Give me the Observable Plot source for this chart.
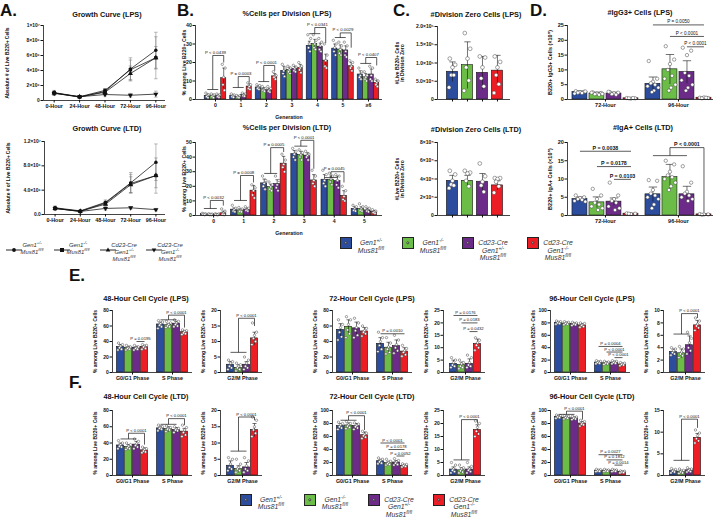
<!DOCTYPE html>
<html><head><meta charset="utf-8">
<script src="https://cdn.jsdelivr.net/npm/d3@7"></script>
<script src="https://cdn.jsdelivr.net/npm/@observablehq/plot@0.6"></script>
<style>
body{margin:0;background:#fff;}
#fig{position:relative;width:716px;height:525px;overflow:hidden;font-family:"Liberation Sans",Arial,Helvetica,sans-serif;color:#111;}
.ttl{position:absolute;font-weight:bold;font-size:7.3px;white-space:nowrap;transform:translate(-50%,-50%);}
.let{position:absolute;font-weight:bold;font-size:17px;line-height:17px;}
.leg{position:absolute;font-style:italic;color:#333;text-align:center;white-space:nowrap;transform:translateX(-50%);}
.leg sup{font-size:0.68em;vertical-align:super;line-height:0;}
</style></head><body><div id="fig"></div>
<script>
const FONT = '"Liberation Sans", Arial, Helvetica, sans-serif';
// ---------- shared ----------
const genotypes = ["Gen1+/- Mus81fl/fl","Gen1-/- Mus81fl/fl","Cd23-Cre Gen1+/- Mus81fl/fl","Cd23-Cre Gen1-/- Mus81fl/fl"];
const colors = ["#2c4d9d","#6cbd48","#6c2b88","#ec1d25"];
const legendLabels = ["Gen1<sup>+/-</sup><br>Mus81<sup>fl/fl</sup>","Gen1<sup>-/-</sup><br>Mus81<sup>fl/fl</sup>","Cd23-Cre<br>Gen1<sup>+/-</sup><br>Mus81<sup>fl/fl</sup>","Cd23-Cre<br>Gen1<sup>-/-</sup><br>Mus81<sup>fl/fl</sup>"];
const hours = ["0-Hour","24-Hour","48-Hour","72-Hour","96-Hour"];

// ---------- A. growth curves ----------
const growthLPS_mean = [[1.0e6,0.45e6,1.2e6,4.2e6,6.7e6],[1.05e6,0.5e6,1.35e6,4.1e6,5.7e6],[1.0e6,0.5e6,1.1e6,3.6e6,5.7e6],[0.95e6,0.5e6,0.8e6,0.7e6,0.85e6]];
const growthLPS_sd = [[0.25e6,0.1e6,0.2e6,1.5e6,2.4e6],[0.3e6,0.1e6,0.25e6,1.3e6,2.8e6],[0.2e6,0.1e6,0.2e6,1.0e6,1.5e6],[0.25e6,0.1e6,0.2e6,0.25e6,0.4e6]];
const growthLTD_mean = [[1.1e6,0.6e6,2.0e6,5.2e6,8.6e6],[1.0e6,0.5e6,1.9e6,5.1e6,6.4e6],[1.0e6,0.55e6,1.7e6,4.9e6,6.4e6],[1.0e6,0.5e6,1.0e6,1.1e6,0.8e6]];
const growthLTD_sd = [[0.3e6,0.15e6,0.4e6,1.7e6,3.0e6],[0.25e6,0.1e6,0.35e6,1.5e6,2.9e6],[0.25e6,0.1e6,0.3e6,1.3e6,2.0e6],[0.2e6,0.1e6,0.3e6,0.2e6,0.2e6]];
const growthLPS_ticks = [0,2e6,4e6,6e6,8e6,1e7];
const growthLPS_tickText = ["0","2×10⁶","4×10⁶","6×10⁶","8×10⁶","1×10⁷"];
const growthLTD_ticks = [0,4e6,8e6,1.2e7];
const growthLTD_tickText = ["0.0","4.0×10⁶","8.0×10⁶","1.2×10⁷"];

// ---------- B. % cells per division (genotype x generation) ----------
const genLPS = ["0","1","2","3","4","5","≥6"];
const divLPS_mean = [[2.0,2.0,6.5,15.5,29.0,27.5,13.5],[2.0,1.5,5.5,16.0,30.0,27.0,12.0],[2.0,2.5,5.0,16.5,28.5,26.5,13.5],[11.5,7.0,12.5,17.0,21.0,18.0,9.0]];
const divLPS_sd = [[1.0,0.6,1.0,2.5,2.5,2.5,2.0],[0.8,0.5,0.9,1.5,2.5,2.5,2.0],[0.8,0.7,1.0,1.5,2.0,2.5,3.0],[5.5,1.5,1.5,2.0,3.5,2.0,1.5]];
const divLPS_dots = [
 [[3.5,2.5,2,1.5,1],[3,2.5,2,1.5,1],[3,2.5,2,1.5,1.2],[19,17,12,8,5]],
 [[3,2.5,2,1.5,1.2],[2.2,2,1.5,1.2,1],[3.5,3,2.5,2,1.8],[9,8,7,6,5.5]],
 [[8,7.5,6.5,6,5.5],[7,6,5.5,5,4.5],[7,6,5,4.5,4],[15,13,12.5,12,11]],
 [[19,17,15.5,14,12.5],[18,17,16,15,14],[18.5,17.5,16.5,15.5,15],[20,18,17,16,14.5]],
 [[35,33,30,28,26],[35,32,30,28,27],[33,31,29,27,26],[30,24,21,18,17]],
 [[32,30,28,26,24],[31,29,27,25,24],[31,29,26,24,23],[21,20,18,17,15.5]],
 [[17,15,13,12,11],[15,13,12,11,10],[18,17,13,11,10],[11,10,9,8,7]]];
const divLPS_p = [
 {t:"grp",g:0,join:5.4,top:23.8,end:20,p:"P < 0.0439",mid:true},
 {t:"grp",g:1,join:6.5,top:12.4,end:9.2,p:"P = 0.0003",mid:true},
 {t:"grp",g:2,join:9.7,top:18.4,end:15.5,p:"P < 0.0001",mid:true},
 {t:"grp",g:4,join:35.6,top:38.9,end:30.5,p:"P < 0.0341",mid:true},
 {t:"grp",g:5,join:33.5,top:36,end:28,p:"P < 0.0029",mid:true},
 {t:"grp",g:6,join:19.5,top:22.7,end:18.4,p:"P < 0.0407",mid:true}];
const genLTD = ["0","1","2","3","4","5"];
const divLTD_mean = [[1.0,4.0,22.0,42.0,24.5,4.5],[0.8,3.5,19.5,41.5,24.5,4.5],[0.8,4.0,21.5,41.0,23.5,3.5],[1.5,17.0,35.5,24.0,13.5,2.5]];
const divLTD_sd = [[0.4,1.2,3,2.5,3.5,1.5],[0.3,1,2,2.5,2.5,1.5],[0.3,1.2,3,2,3.5,1.5],[1.5,3.5,5,4,3.5,1]];
const divLTD_dots = [
 [[1.5,1.2,1,0.8,0.5],[1.2,1,0.8,0.6,0.5],[1.2,1,0.8,0.6,0.4],[4.5,3,1.5,0.8,0.5]],
 [[7,5,4,3,2.5],[5.5,4.5,3.5,2.8,2.5],[6,5,4,3.5,3],[21,19,17,14,12]],
 [[27,24,22,20,18],[23,21,19.5,18,17],[27,24,21,19,17],[42,38,35,33,30]],
 [[46,44,42,40,38],[45,43,41.5,40,38],[44,42,41,40,38],[31,27,24,22,20]],
 [[31,28,24,22,20],[29,27,25,23,21],[28,27,24,21,19],[20,17,13,11,10]],
 [[7,6,4.5,3.5,3],[8,6,4.5,3.5,3],[6,5,3.5,3,2.5],[4,3,2.5,2,1.5]]];
const divLTD_p = [
 {t:"grp",g:0,join:4.8,top:10.3,end:6.8,p:"P < 0.0032",mid:true},
 {t:"grp",g:1,join:10.3,top:27.4,end:22.6,p:"P = 0.0008",mid:true},
 {t:"grp",g:2,join:28.8,top:46.5,end:43.5,p:"P = 0.0005",mid:true},
 {t:"grp",g:3,join:47.5,top:51.5,end:32,p:"P < 0.0001",mid:true},
 {t:"grp",g:4,join:26,top:30,end:22.6,p:"P = 0.0045",mid:true}];

// ---------- C. division zero cells ----------
const zeroLPS_mean = [7.6e4,9.4e4,7.3e4,7.9e4];
const zeroLPS_sd = [2.7e4,6.4e4,4.5e4,4.2e4];
const zeroLPS_dots = [[1.12e5,0.95e5,0.88e5,0.67e5,0.67e5,0.33e5],[1.82e5,1.39e5,1.12e5,0.88e5,0.52e5,0.24e5],[1.18e5,1.15e5,0.88e5,0.58e5,0.36e5],[1.18e5,1.03e5,0.88e5,0.67e5,0.42e5,0.18e5]];
const zeroLPS_ticks = [0,5e4,1e5,1.5e5,2e5];
const zeroLPS_tickText = ["0","5.0×10⁴","1.0×10⁵","1.5×10⁵","2.0×10⁵"];
const zeroLTD_mean = [3.8e4,3.8e4,3.7e4,3.3e4];
const zeroLTD_sd = [0.6e4,0.6e4,0.9e4,0.5e4];
const zeroLTD_dots = [[4.9e4,4.5e4,3.8e4,3.4e4,3.3e4,3.0e4],[4.9e4,4.7e4,4.6e4,3.8e4,3.2e4],[5.7e4,4.3e4,3.7e4,3.3e4,2.6e4],[4.1e4,4.1e4,4.0e4,3.7e4,3.2e4,2.5e4]];
const zeroLTD_ticks = [0,2e4,4e4,6e4,8e4];
const zeroLTD_tickText = ["0","2×10⁴","4×10⁴","6×10⁴","8×10⁴"];

// ---------- D. IgG3+ / IgA+ cells (x10^5) ----------
const dHours = ["72-Hour","96-Hour"];
const igg3_mean = [[2.5,2.0,2.0,0.4],[5.3,10.2,9.3,0.6]];
const igg3_sd = [[0.4,0.5,0.5,0.1],[2.3,5.0,3.8,0.2]];
const igg3_dots = [
 [[2.8,2.6,2.5,2.3,2.2,2.0,2.7],[2.4,2.2,2.0,1.8,1.6,2.3,1.9],[2.5,2.3,2.1,1.8,1.6,2.6],[0.5,0.4,0.3,0.4,0.5]],
 [[13,7,6,5.5,5,4.5,4,3,2.5],[18,13.5,12,10,8,7,5,4,3],[17.5,16.5,15,9,8,6.5,5,4,3],[0.6,0.5,0.7,0.4,0.6]]];
const igg3_p = [{t:"line",g:1,from:0,to:3,y:25.2,p:"P = 0.0050"},{t:"line",g:1,from:1,to:3,y:21.3,p:"P < 0.0001"},{t:"line",g:1,from:2,to:3,y:17.8,p:"P < 0.0001"}];
const iga_mean = [[4.5,3.6,3.8,0.5],[5.8,10.5,5.8,0.3]];
const iga_sd = [[0.6,1.5,1.0,0.1],[2.0,3.5,2.2,0.1]];
const iga_dots = [
 [[5.5,5.0,4.8,4.5,4.3,4.0,3.8],[7.3,5.5,4.5,3.5,3.0,2.5,2.0,1.5],[9.0,5.5,4.5,4.0,3.5,2.5,2.0,1.5],[0.6,0.5,0.4,0.5]],
 [[9.7,9.5,7.0,6.0,5.5,5.0,4.5,3.0,2.0],[15,14,12,11,10.5,10,9,8,7],[13.5,9,6.5,6,5.5,5,4.5,4],[0.4,0.3,0.3,0.2]]];
const iga_p = [{t:"line",g:0,from:0,to:3,y:17.6,p:"P = 0.0038"},{t:"line",g:0,from:1,to:3,y:13.4,p:"P = 0.0178"},{t:"line",g:0,from:2,to:3,y:9.9,p:"P = 0.0103"},{t:"grp",g:1,join:16.4,top:18.6,end:0.8,p:"P < 0.0001"}];

// ---------- E/F. cell cycle ----------
const phases1 = ["G0/G1 Phase","S Phase"];
const phases2 = ["G2/M Phase"];
const E48_g1 = [33,32,32,33], E48_g1_sd = [3,2,2,2], E48_g1_dots = [[38,36,34,32,30,29],[35,33,32,31,30,29],[35,33,32,31,30,29],[36,35,34,33,31,30]];
const E48_s = [62,61,63,52], E48_s_sd = [3,2,3,2], E48_s_dots = [[67,65,63,61,59,57],[66,64,62,60,59,58],[68,66,64,62,60,59],[55,54,53,51,50,49]];
const E48_g2 = [2.5,1.5,2.5,11], E48_g2_sd = [1,1,1,2], E48_g2_dots = [[4,3.5,3,2,1.5,1],[3,2.5,2,1.5,1,0.5],[5,4,3,2,1.5,1],[16,13,12,11,10,9]];
const E72_g1 = [55,59,57,53], E72_g1_sd = [8,9,8,5], E72_g1_dots = [[68,62,58,52,46,42],[72,68,62,55,50,45],[70,64,58,54,48,45],[60,57,54,52,50,47]];
const E72_s = [37,32,34,27], E72_s_sd = [8,7,8,5], E72_s_dots = [[52,45,40,35,30,27],[45,38,33,30,26,24],[48,42,36,32,28,25],[35,31,28,26,23,21]];
const E72_g2 = [3.5,3.0,3.5,11.5], E72_g2_sd = [1.5,1.2,2,2], E72_g2_dots = [[6,5,4,3,2.5,2],[5,4,3.5,2.5,2,1.5],[7,6,4,3,2.5,2],[14,13,12,11,10,9]];
const E96_g1 = [80,79,78,76], E96_g1_sd = [2,2,2,3], E96_g1_dots = [[83,82,81,80,79,78],[82,81,80,79,78,77],[81,80,79,78,77,76],[80,79,77,76,74,73]];
const E96_s = [16,15,16,13], E96_s_sd = [2,2,2,2], E96_s_dots = [[19,18,17,16,15,14],[18,17,16,15,14,13],[19,18,17,16,15,14],[16,15,14,13,12,11]];
const E96_g2 = [3.3,3.1,4.4,7.6], E96_g2_sd = [0.5,0.7,1.5,0.8], E96_g2_dots = [[4,3.8,3.5,3.2,3,2.8],[4.2,3.8,3.3,3,2.7,2.4],[6.5,5.5,4.8,4,3.5,3],[8.8,8.3,7.8,7.5,7.2,6.8]];
const F48_g1 = [37,35,38,31], F48_g1_sd = [3,3,4,3], F48_g1_dots = [[43,40,38,36,35,33],[40,38,36,34,33,32],[45,42,39,37,35,33],[35,33,32,30,29,28]];
const F48_s = [58,57,56,54], F48_s_sd = [3,3,3,4], F48_s_dots = [[62,60,59,58,57,55],[61,59,58,57,56,54],[60,58,57,56,55,53],[62,59,56,53,50,48]];
const F48_g2 = [3.0,2.0,2.5,14], F48_g2_sd = [1.5,1,1.5,2], F48_g2_dots = [[5.5,5,3.5,2.5,2,1.5],[5,3.5,2.5,2,1.5,1],[5.5,4.5,3,2,1.5,1],[18,17,15,14,13,12]];
const F72_g1 = [76,77,76,62], F72_g1_sd = [4,4,4,5], F72_g1_dots = [[82,80,78,75,73,71],[83,80,78,76,74,72],[81,79,77,75,73,71],[68,65,63,61,59,57]];
const F72_s = [22,19,20,15], F72_s_sd = [3,3,3,2], F72_s_dots = [[27,25,23,21,19,18],[25,22,20,18,17,16],[26,23,21,19,17,16],[18,17,16,15,14,13]];
const F72_g2 = [2.3,2.0,2.3,17.5], F72_g2_sd = [1,1,1,2], F72_g2_dots = [[5,4,2.5,2,1.5,1],[4,3,2.5,1.8,1.3,1],[5,3.5,2.5,2,1.5,1],[21,20,18.5,17,16,15]];
const F96_g1 = [90,89,88,80], F96_g1_sd = [2,2,2,3], F96_g1_dots = [[93,92,91,90,89,88],[92,91,90,89,88,87],[91,90,89,88,87,86],[85,83,81,79,78,76]];
const F96_s = [7.5,7.5,7.5,5.5], F96_s_sd = [1,1,1,1], F96_s_dots = [[9.5,9,8,7,6.5,6],[9.5,8.5,8,7,6.5,6],[9.5,8.5,8,7,6.5,6],[7,6.5,6,5,4.5,4]];
const F96_g2 = [1.0,0.9,1.2,8.7], F96_g2_sd = [0.3,0.3,0.3,1], F96_g2_dots = [[1.6,1.4,1.2,1,0.8,0.6],[1.5,1.2,1,0.8,0.6,0.5],[1.8,1.5,1.3,1.1,0.9,0.8],[10.5,9.8,9.2,8.5,8,7.5]];
const E48_p1 = [{t:"line",g:0,from:2,to:3,y:40,p:"P = 0.0195"},{t:"grp",g:1,join:68,top:74,end:58,p:"P < 0.0001"}];
const E48_p2 = [{t:"grp",g:0,join:6.5,top:17.5,end:15,p:"P < 0.0001"}];
const E72_p1 = [{t:"line",g:1,from:0,to:3,y:50,p:"P = 0.0010"}];
const E72_p2 = [{t:"line",g:0,from:0,to:3,y:23,p:"P = 0.0176"},{t:"line",g:0,from:1,to:3,y:20,p:"P = 0.0183"},{t:"line",g:0,from:2,to:3,y:16.5,p:"P = 0.0432"}];
const E96_p1 = [{t:"line",g:1,from:0,to:3,y:42,p:"P = 0.0004"},{t:"line",g:1,from:1,to:3,y:33,p:"P < 0.0001"},{t:"line",g:1,from:2,to:3,y:24,p:"P < 0.0001"}];
const E96_p2 = [{t:"grp",g:0,join:6.2,top:9.5,end:8.8,p:"P < 0.0001"}];
const F48_p1 = [{t:"grp",g:0,join:45,top:52,end:38,p:"P < 0.0001"},{t:"grp",g:1,join:63,top:70,end:62,p:"P < 0.0001"}];
const F48_p2 = [{t:"grp",g:0,join:7.5,top:18,end:17,p:"P < 0.0001"}];
const F72_p1 = [{t:"grp",g:0,join:85,top:92,end:70,p:"P < 0.0001"},{t:"line",g:1,from:0,to:3,y:50,p:"P < 0.0001"},{t:"line",g:1,from:1,to:3,y:40,p:"P = 0.0178"},{t:"line",g:1,from:2,to:3,y:30,p:"P = 0.0052"}];
const F72_p2 = [{t:"grp",g:0,join:6,top:21.5,end:20,p:"P < 0.0001"}];
const F96_p1 = [{t:"grp",g:0,join:94,top:99,end:86,p:"P < 0.0001"},{t:"line",g:1,from:0,to:3,y:32,p:"P = 0.0027"},{t:"line",g:1,from:1,to:3,y:24,p:"P = 0.1812"},{t:"line",g:1,from:2,to:3,y:16,p:"P = 0.0014"}];
const F96_p2 = [{t:"grp",g:0,join:3.5,top:13,end:11,p:"P < 0.0001"}];

// ---------- drawing helpers ----------
const fig = document.getElementById("fig");
const jit = [-0.28,0.28,0,-0.14,0.14,-0.36,0.36,0.07,-0.07];
const transpose = m => m[0].map((_, j) => m.map(r => r[j]));
const K = "#161616";

function addPlot(F, m, opts) {
  const [mL, mR, mT, mB] = m;
  const svg = Plot.plot(Object.assign({
    width: F.x1 - F.x0 + mL + mR, height: F.y1 - F.y0 + mT + mB,
    marginLeft: mL, marginRight: mR, marginTop: mT, marginBottom: mB,
    color: {type: "identity"},
    style: {fontFamily: FONT, fontSize: "5px", background: "transparent", overflow: "visible", color: "#111"}
  }, opts));
  svg.style.position = "absolute";
  svg.style.left = (F.x0 - mL) + "px";
  svg.style.top = (F.y0 - mT) + "px";
  fig.appendChild(svg);
}
function fmtFrom(ticks, text) { return d => { const i = ticks.indexOf(d); return i >= 0 ? text[i] : ""; }; }

function barPanel(o) {
  const rows = [], drows = [];
  o.vals.forEach((arr, g) => arr.forEach((v, i) => {
    const xc = g + (i - 1.5) * o.step;
    rows.push({xc, v, sd: o.sds[g][i], c: colors[i]});
    if (o.dots) o.dots[g][i].forEach((dv, k) => drows.push({x: xc + jit[k % jit.length] * o.bw * (o.spread ?? 1), y: dv}));
  }));
  const segs = [], labs = [];
  (o.br || []).forEach(b => {
    const X = i => b.g + (i - 1.5) * o.step;
    if (b.t === "grp") {
      segs.push({x1: X(0), x2: X(2), y1: b.join, y2: b.join}, {x1: X(1), x2: X(1), y1: b.join, y2: b.top},
                {x1: X(1), x2: X(3), y1: b.top, y2: b.top}, {x1: X(3), x2: X(3), y1: b.top, y2: b.end});
      labs.push({x: b.mid ? b.g : (X(1) + X(3)) / 2, y: b.top, t: b.p});
    } else {
      segs.push({x1: X(b.from), x2: X(b.to), y1: b.y, y2: b.y});
      labs.push({x: (X(b.from) + X(b.to)) / 2, y: b.y, t: b.p});
    }
  });
  const hw = o.bw / 2, cap = o.bw * 0.28;
  const yTop = o.yTicks[o.yTicks.length - 1];
  const xt = o.tickEach ? rows.map(r => r.xc) : o.groups.map((_, g) => g);
  const fs = o.fs ?? 5.2;
  addPlot(o.F, o.m, {
    x: {type: "linear", domain: o.xDomain},
    y: {type: "linear", domain: [0, yTop]},
    marks: [
      Plot.rect(rows, {x1: d => d.xc - hw, x2: d => d.xc + hw, y1: 0, y2: "v", fill: "c", stroke: K, strokeWidth: 0.6}),
      Plot.link(rows, {x1: "xc", x2: "xc", y1: d => Math.max(0, d.v - d.sd), y2: d => d.v + d.sd, stroke: K, strokeWidth: 0.6}),
      Plot.link(rows, {x1: d => d.xc - cap, x2: d => d.xc + cap, y1: d => d.v + d.sd, y2: d => d.v + d.sd, stroke: K, strokeWidth: 0.6}),
      Plot.dot(drows, {x: "x", y: "y", r: o.dotR ?? 1.3, fill: "white", stroke: "#333", strokeWidth: 0.45}),
      Plot.link(segs, {x1: "x1", x2: "x2", y1: "y1", y2: "y2", stroke: K, strokeWidth: 0.7}),
      Plot.text(labs, {x: "x", y: "y", text: "t", dy: -1.5, lineAnchor: "bottom", fontSize: o.pfs ?? 4.5, fontWeight: o.pBold ? "bold" : "normal", fill: "#111"}),
      Plot.ruleX([o.xDomain[0]], {y1: 0, y2: yTop, stroke: K, strokeWidth: 0.8}),
      Plot.ruleY([0], {x1: o.xDomain[0], x2: o.xDomain[1], stroke: K, strokeWidth: 0.8}),
      Plot.axisY({ticks: o.yTicks, tickFormat: o.yText ? fmtFrom(o.yTicks, o.yText) : (d => String(d)), tickSize: 2.5, tickPadding: 1.2,
        fontWeight: "bold", fontSize: fs, label: o.yLabel, labelAnchor: "center", labelArrow: "none", labelOffset: o.lo}),
      Plot.axisX({ticks: xt, tickFormat: o.tickEach ? (() => "") : (g => o.groups[g]), tickSize: 2.5, tickPadding: 1.5,
        fontWeight: "bold", fontSize: o.xfs ?? fs, label: o.xLabel ?? null, labelAnchor: "center", labelArrow: "none", labelOffset: o.xlo ?? 18})
    ]
  });
}

const SYMS = ["circle", "square", "triangle", "triangle"];
function growthPanel(F, means, sds, ticks, tickText, label) {
  const rows = [];
  means.forEach((arr, s) => arr.forEach((v, t) => rows.push({s, t, v, sd: sds[s][t]})));
  const yTop = ticks[ticks.length - 1];
  const xd = [-0.42, 4.38];
  addPlot(F, [44, 6, 8, 14], {
    x: {type: "linear", domain: xd},
    y: {type: "linear", domain: [0, yTop]},
    marks: [
      Plot.link(rows, {x1: "t", x2: "t", y1: d => Math.max(0, d.v - d.sd), y2: d => d.v + d.sd, stroke: "#777", strokeWidth: 0.5}),
      Plot.link(rows, {x1: d => d.t - 0.07, x2: d => d.t + 0.07, y1: d => d.v + d.sd, y2: d => d.v + d.sd, stroke: "#777", strokeWidth: 0.5}),
      Plot.link(rows, {x1: d => d.t - 0.07, x2: d => d.t + 0.07, y1: d => Math.max(0, d.v - d.sd), y2: d => Math.max(0, d.v - d.sd), stroke: "#777", strokeWidth: 0.5}),
      Plot.line(rows, {x: "t", y: "v", z: "s", stroke: "#111", strokeWidth: 0.75}),
      ...SYMS.map((sym, s) => Plot.dot(rows.filter(d => d.s === s), {x: "t", y: "v", symbol: sym, r: s === 0 ? 1.7 : 1.9, fill: "#111", rotate: s === 3 ? 180 : 0})),
      Plot.ruleX([xd[0]], {y1: 0, y2: yTop, stroke: K, strokeWidth: 0.8}),
      Plot.ruleY([0], {x1: xd[0], x2: xd[1], stroke: K, strokeWidth: 0.8}),
      Plot.axisY({ticks, tickFormat: fmtFrom(ticks, tickText), tickSize: 2.5, tickPadding: 1.2, fontWeight: "bold", fontSize: 4.9,
        label, labelAnchor: "center", labelArrow: "none", labelOffset: 38}),
      Plot.axisX({ticks: [0,1,2,3,4], tickFormat: i => hours[i], tickSize: 2.5, tickPadding: 1.5, fontWeight: "bold", fontSize: 5.4, label: null})
    ]
  });
}

function title(txt, cx, cy) { const d = document.createElement("div"); d.className = "ttl"; d.textContent = txt; d.style.left = cx + "px"; d.style.top = cy + "px"; fig.appendChild(d); }
function letter(txt, x, y) { const d = document.createElement("div"); d.className = "let"; d.textContent = txt; d.style.left = x + "px"; d.style.top = y + "px"; fig.appendChild(d); }
function legText(html, cx, top, fs, lh) { const d = document.createElement("div"); d.className = "leg"; d.innerHTML = html; Object.assign(d.style, {left: cx + "px", top: top + "px", fontSize: fs + "px", lineHeight: lh + "px"}); fig.appendChild(d); }
function swatch(i, x, y, size) {
  const s = document.createElement("div");
  Object.assign(s.style, {position: "absolute", left: x + "px", top: y + "px", width: size + "px", height: size + "px", background: colors[i], border: "1.2px solid #222", boxSizing: "border-box"});
  const d = document.createElement("div");
  Object.assign(d.style, {position: "absolute", left: "50%", top: "50%", width: "3.4px", height: "3.4px", borderRadius: "50%", background: "#fff", border: "0.6px solid #333", transform: "translate(-50%,-50%)", boxSizing: "border-box"});
  s.appendChild(d); fig.appendChild(s);
}
function lineSymbol(i, cx, cy) {
  const shapes = [
    '<circle cx="10" cy="5" r="1.9"/>',
    '<rect x="8" y="3" width="4" height="4"/>',
    '<path d="M10 2.6 L12.3 6.6 L7.7 6.6 Z"/>',
    '<path d="M10 7.4 L12.3 3.4 L7.7 3.4 Z"/>'];
  const d = document.createElement("div");
  Object.assign(d.style, {position: "absolute", left: (cx - 10) + "px", top: (cy - 5) + "px", width: "20px", height: "10px"});
  d.innerHTML = '<svg width="20" height="10"><line x1="2" y1="5" x2="18" y2="5" stroke="#111" stroke-width="0.9"/><g fill="#111">' + shapes[i] + '</g></svg>';
  fig.appendChild(d);
}

// ---------- A ----------
letter("A.", 0, 2);
title("Growth Curve (LPS)", 107, 14);
growthPanel({x0: 43, x1: 165, y0: 25, y1: 100}, growthLPS_mean, growthLPS_sd, growthLPS_ticks, growthLPS_tickText, "Absolute # of Live B220+ Cells");
title("Growth Curve (LTD)", 107, 128);
growthPanel({x0: 44, x1: 165, y0: 141, y1: 214}, growthLTD_mean, growthLTD_sd, growthLTD_ticks, growthLTD_tickText, "Absolute # of Live B220+ Cells");
[[14, 32], [62, 78], [108, 124], [154, 170]].forEach(([sx, tx], i) => { lineSymbol(i, sx, 246); legText(legendLabels[i], tx, 242, 5.9, 7); });

// ---------- B ----------
letter("B.", 177, 2);
title("%Cells per Division (LPS)", 287, 13);
barPanel({F: {x0: 195, x1: 382, y0: 25, y1: 99}, m: [22, 4, 14, 24], vals: transpose(divLPS_mean), sds: transpose(divLPS_sd), dots: divLPS_dots,
  step: 0.215, bw: 0.2, xDomain: [-0.784, 6.55], yTicks: [0,10,20,30,40], groups: genLPS, br: divLPS_p,
  yLabel: "% among Live B220+ Cells", lo: 13, xLabel: "Generation", xlo: 19, dotR: 1.2, pfs: 4.3});
title("%Cells per Division (LTD)", 287, 127);
barPanel({F: {x0: 195, x1: 382, y0: 142, y1: 215}, m: [22, 4, 14, 24], vals: transpose(divLTD_mean), sds: transpose(divLTD_sd), dots: divLTD_dots,
  step: 0.215, bw: 0.2, xDomain: [-0.6, 5.6], yTicks: [0,10,20,30,40,50], groups: genLTD, br: divLTD_p,
  yLabel: "% among Live B220+ Cells", lo: 13, xLabel: "Generation", xlo: 19, dotR: 1.2, pfs: 4.3});

// ---------- C ----------
letter("C.", 393, 2);
title("#Division Zero Cells (LPS)", 476, 14);
barPanel({F: {x0: 437, x1: 510, y0: 26, y1: 99}, m: [44, 4, 8, 10], vals: [zeroLPS_mean], sds: [zeroLPS_sd], dots: [zeroLPS_dots],
  step: 1, bw: 0.75, spread: 0.85, xDomain: [-2.5, 2.37], yTicks: zeroLPS_ticks, yText: zeroLPS_tickText, groups: [""], tickEach: true,
  yLabel: "#Live B220+ Cells\nin Division Zero", lo: 42, dotR: 1.9, fs: 5});
title("#Division Zero Cells (LTD)", 476, 129);
barPanel({F: {x0: 437, x1: 510, y0: 142, y1: 215}, m: [44, 4, 8, 10], vals: [zeroLTD_mean], sds: [zeroLTD_sd], dots: [zeroLTD_dots],
  step: 1, bw: 0.75, spread: 0.85, xDomain: [-2.5, 2.37], yTicks: zeroLTD_ticks, yText: zeroLTD_tickText, groups: [""], tickEach: true,
  yLabel: "#Live B220+ Cells\nin Division Zero", lo: 42, dotR: 1.9, fs: 5});

// ---------- D ----------
letter("D.", 530, 2);
title("#IgG3+ Cells (LPS)", 640, 12);
barPanel({F: {x0: 567, x1: 713, y0: 25, y1: 99}, m: [22, 3, 14, 12], vals: igg3_mean, sds: igg3_sd, dots: igg3_dots,
  step: 0.233, bw: 0.205, xDomain: [-0.52, 1.48], yTicks: [0,5,10,15,20,25], groups: dHours, br: igg3_p,
  yLabel: "B220+ IgG3+ Cells (×10⁵)", lo: 19, dotR: 1.7, fs: 5.5, pfs: 4.6});
title("#IgA+ Cells (LTD)", 643, 127);
barPanel({F: {x0: 567, x1: 713, y0: 142, y1: 215}, m: [22, 3, 14, 12], vals: iga_mean, sds: iga_sd, dots: iga_dots,
  step: 0.233, bw: 0.205, xDomain: [-0.52, 1.48], yTicks: [0,5,10,15,20], groups: dHours, br: iga_p,
  yLabel: "B220+ IgA+ Cells (×10⁵)", lo: 19, dotR: 1.7, fs: 5.5, pfs: 5.3, pBold: true});

// legend B-D
[340, 402, 462, 527].forEach((x, i) => { swatch(i, x, 237, 12); legText(legendLabels[i], x + 31, 239, 6.8, 7.6); });

// ---------- E / F ----------
function cellCycle(a, b, y0, y1, g1, g1sd, g1d, s, ssd, sd_, g2, g2sd, g2d, p1, p2, t1, t2) {
  barPanel({F: {x0: a, x1: a + 80, y0, y1}, m: [26, 3, 14, 12], vals: [g1, s], sds: [g1sd, ssd], dots: [g1d, sd_],
    step: 0.2, bw: 0.18, xDomain: [-0.5, 1.5], yTicks: t1, groups: phases1, br: p1,
    yLabel: "% among Live B220+ Cells", lo: 19, dotR: 1.2, fs: 5, xfs: 5.4, pfs: 4.2});
  barPanel({F: {x0: b, x1: b + 42, y0, y1}, m: [26, 3, 14, 12], vals: [g2], sds: [g2sd], dots: [g2d],
    step: 0.2, bw: 0.18, xDomain: [-0.55, 0.5], yTicks: t2, groups: phases2, br: p2,
    yLabel: "% among Live B220+ Cells", lo: 19, dotR: 1.2, fs: 5, xfs: 5.4, pfs: 4.2});
}
const t80 = [0,20,40,60,80], t100 = [0,20,40,60,80,100];
const colA = [112, 332, 550], colB = [220, 443, 663], colT = [146, 372, 592];
letter("E.", 69, 267);
title("48-Hour Cell Cycle (LPS)", colT[0], 298);
cellCycle(colA[0], colB[0], 310, 372, E48_g1, E48_g1_sd, E48_g1_dots, E48_s, E48_s_sd, E48_s_dots, E48_g2, E48_g2_sd, E48_g2_dots, E48_p1, E48_p2, t80, [0,5,10,15,20]);
title("72-Hour Cell Cycle (LPS)", colT[1], 298);
cellCycle(colA[1], colB[1], 310, 372, E72_g1, E72_g1_sd, E72_g1_dots, E72_s, E72_s_sd, E72_s_dots, E72_g2, E72_g2_sd, E72_g2_dots, E72_p1, E72_p2, t80, [0,5,10,15,20,25]);
title("96-Hour Cell Cycle (LPS)", colT[2], 298);
cellCycle(colA[2], colB[2], 310, 372, E96_g1, E96_g1_sd, E96_g1_dots, E96_s, E96_s_sd, E96_s_dots, E96_g2, E96_g2_sd, E96_g2_dots, E96_p1, E96_p2, t100, [0,2,4,6,8,10]);

letter("F.", 69, 374);
title("48-Hour Cell Cycle (LTD)", colT[0], 396);
cellCycle(colA[0], colB[0], 410, 475, F48_g1, F48_g1_sd, F48_g1_dots, F48_s, F48_s_sd, F48_s_dots, F48_g2, F48_g2_sd, F48_g2_dots, F48_p1, F48_p2, t80, [0,5,10,15,20]);
title("72-Hour Cell Cycle (LTD)", colT[1], 396);
cellCycle(colA[1], colB[1], 410, 475, F72_g1, F72_g1_sd, F72_g1_dots, F72_s, F72_s_sd, F72_s_dots, F72_g2, F72_g2_sd, F72_g2_dots, F72_p1, F72_p2, t100, [0,5,10,15,20,25]);
title("96-Hour Cell Cycle (LTD)", colT[2], 396);
cellCycle(colA[2], colB[2], 410, 475, F96_g1, F96_g1_sd, F96_g1_dots, F96_s, F96_s_sd, F96_s_dots, F96_g2, F96_g2_sd, F96_g2_dots, F96_p1, F96_p2, t100, [0,5,10,15]);

// bottom legend
[240, 304, 368, 433].forEach((x, i) => { swatch(i, x, 494, 12); legText(legendLabels[i], x + 31, 496, 6.8, 7.4); });
</script></body></html>
